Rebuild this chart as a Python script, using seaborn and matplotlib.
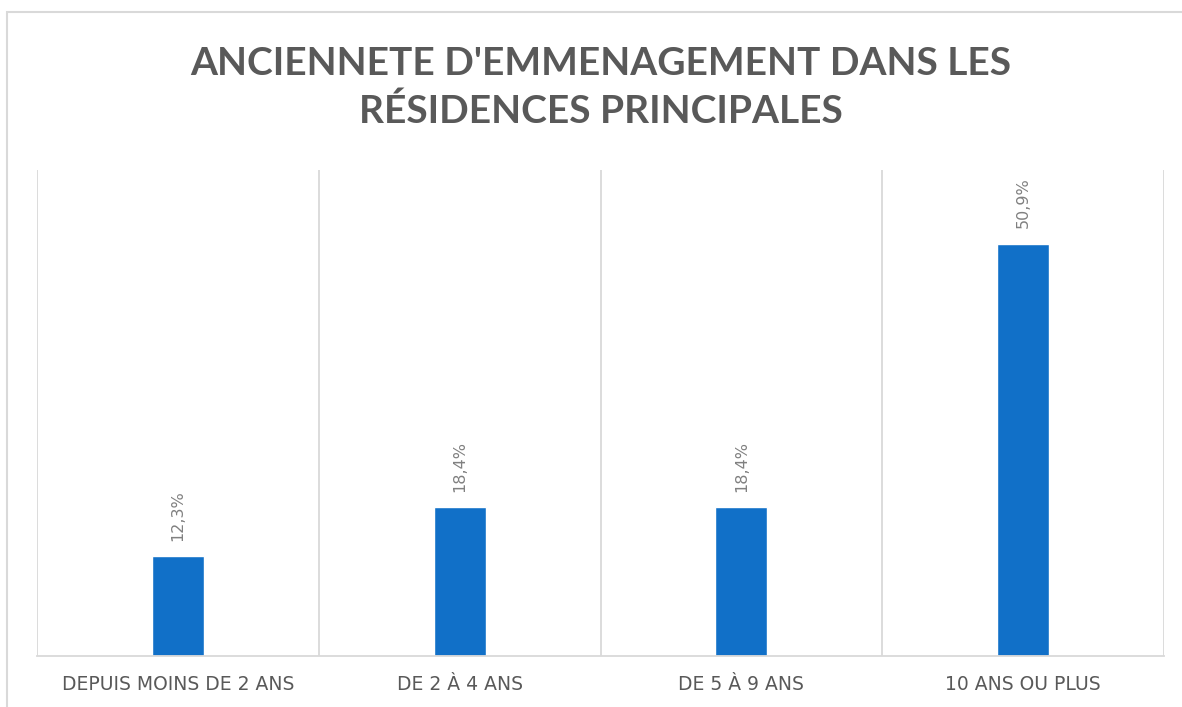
import matplotlib
matplotlib.use("Agg")
import matplotlib.pyplot as plt
import seaborn as sns
import pandas as pd
from matplotlib.patches import Rectangle
from matplotlib.ticker import FixedLocator

categories = ["DEPUIS MOINS DE 2 ANS", "DE 2 À 4 ANS", "DE 5 À 9 ANS", "10 ANS OU PLUS"]
values = [12.3, 18.4, 18.4, 50.9]
value_labels = ["12,3%", "18,4%", "18,4%", "50,9%"]
title = "ANCIENNETE D'EMMENAGEMENT DANS LES\nRÉSIDENCES PRINCIPALES"

sns.set_theme(style="white")
plt.rcParams['font.family'] = ['Lato', 'DejaVu Sans']

df = pd.DataFrame({"cat": categories, "val": values})

fig = plt.figure(figsize=(11.82, 7.07), dpi=100)
ax = fig.add_axes([37/1182, 1 - 656/707, (1164 - 37)/1182, (656 - 170)/707])

sns.barplot(data=df, x="cat", y="val", color="#1170C8", width=0.185,
            saturation=1, ax=ax)

ax.set_ylim(0, 60)
ax.set_xlim(-0.5, len(categories) - 0.5)
ax.set_yticks([])
ax.set_xlabel("")
ax.set_ylabel("")

# vertical separators at category boundaries
ax.xaxis.set_minor_locator(FixedLocator([i - 0.5 for i in range(len(categories) + 1)]))
ax.grid(True, which="minor", axis="x", color="#d9d9d9", linewidth=1.3)
ax.grid(False, which="major")
ax.tick_params(axis="x", which="both", length=0, pad=14)
for lbl in ax.get_xticklabels():
    lbl.set_fontfamily(['DejaVu Sans'])
    lbl.set_fontsize(13.5)
    lbl.set_color("#595959")

for s in ["top", "right", "left"]:
    ax.spines[s].set_visible(False)
ax.spines["bottom"].set_color("#d9d9d9")
ax.spines["bottom"].set_linewidth(1.3)

ax.bar_label(ax.containers[0], labels=value_labels, rotation=90, padding=11,
             color="#808080", fontsize=11.5, fontfamily=['DejaVu Sans'])

ax.set_title(title, fontsize=28, fontweight="bold", color="#595959",
             pad=34, linespacing=1.4)

# outer chart frame
fig.patches.append(Rectangle((7/1182, -0.1), 1.2, 1 - 12/707 + 0.1,
                             transform=fig.transFigure, fill=False,
                             edgecolor="#d9d9d9", linewidth=1.5))

fig.savefig("out.png", dpi=100, facecolor="white")
